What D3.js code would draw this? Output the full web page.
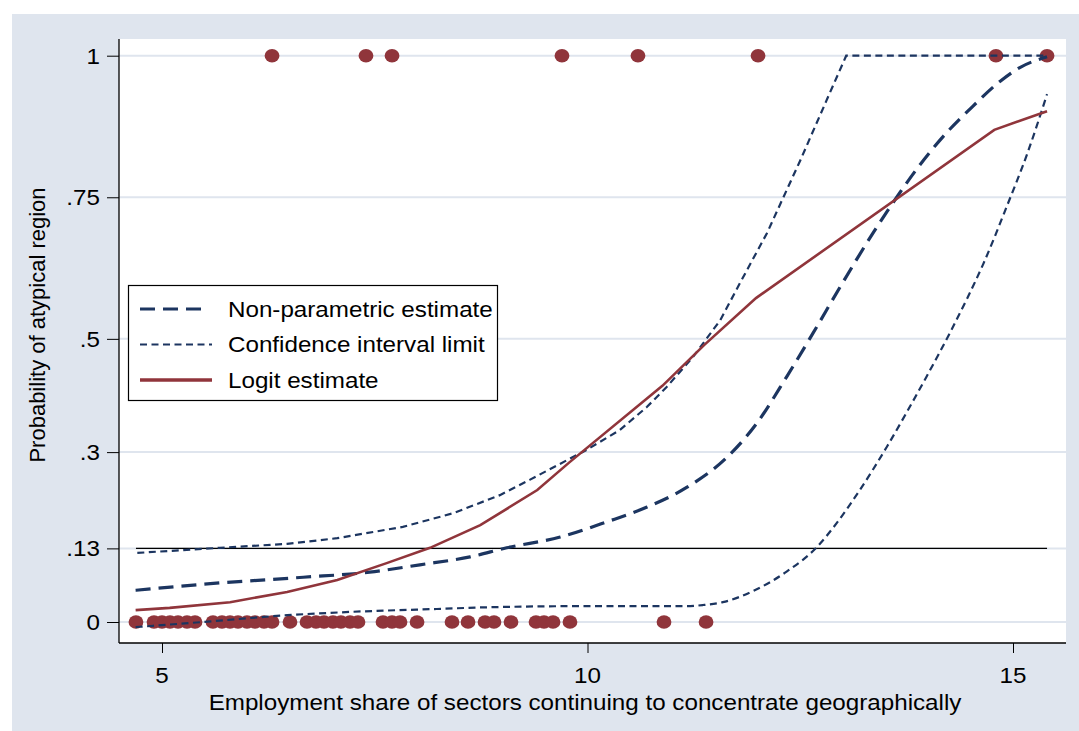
<!DOCTYPE html>
<html>
<head>
<meta charset="utf-8">
<script src="https://cdn.jsdelivr.net/npm/d3@7"></script>
<style>
  body { margin: 0; background: #fff; }
  text { font-family: "Liberation Sans", Arial, sans-serif; fill: #000; }
</style>
</head>
<body>
<script>
// observations (x) with outcome 0 and 1
const zeroX = [4.694, 4.906, 5.0, 5.094, 5.188, 5.294, 5.388, 5.599, 5.705, 5.799, 5.893, 5.999,
  6.093, 6.199, 6.293, 6.504, 6.704, 6.810, 6.904, 7.009, 7.103, 7.209, 7.303, 7.597, 7.703,
  7.797, 7.997, 8.408, 8.596, 8.796, 8.901, 9.101, 9.395, 9.489, 9.595, 9.794, 10.899, 11.393];
const oneX = [6.293, 7.397, 7.703, 9.700, 10.593, 12.004, 14.800, 15.400];

// fitted curves, [x, probability]
const nonParametric = [[4.69, 0.056], [5.68, 0.069], [6.66, 0.079], [7.44, 0.088], [8.03, 0.101],
  [8.62, 0.115], [9.05, 0.131], [9.68, 0.150], [10.23, 0.177], [10.70, 0.203], [11.17, 0.238],
  [11.64, 0.291], [11.99, 0.351], [12.34, 0.433], [12.65, 0.510], [12.97, 0.592], [13.36, 0.688],
  [13.67, 0.758], [13.91, 0.808], [14.22, 0.864], [14.53, 0.911], [14.85, 0.955], [15.08, 0.979],
  [15.40, 0.998]];
const ciUpper = [[4.71, 0.122], [5.68, 0.131], [6.47, 0.138], [7.06, 0.148], [7.83, 0.168],
  [8.42, 0.192], [8.97, 0.224], [9.32, 0.251], [9.99, 0.304], [10.38, 0.339], [10.70, 0.380],
  [10.93, 0.415], [11.24, 0.468], [11.56, 0.533], [11.79, 0.598], [12.11, 0.687], [12.50, 0.815],
  [12.80, 0.918], [13.04, 1.0], [15.40, 1.0]];
const ciLower = [[4.69, -0.009], [5.48, 0.0], [6.47, 0.012], [7.24, 0.018], [8.23, 0.023],
  [8.82, 0.026], [9.99, 0.028], [11.17, 0.028], [11.36, 0.030], [11.59, 0.035], [11.95, 0.055],
  [12.34, 0.089], [12.70, 0.133], [12.93, 0.175], [13.20, 0.233], [13.52, 0.310], [13.75, 0.370],
  [13.99, 0.435], [14.26, 0.511], [14.46, 0.571], [14.65, 0.632], [14.93, 0.735], [15.17, 0.828],
  [15.40, 0.932]];
const logit = [[4.69, 0.021], [5.09, 0.025], [5.80, 0.035], [6.47, 0.053], [7.06, 0.074],
  [7.64, 0.104], [8.15, 0.131], [8.74, 0.171], [9.41, 0.233], [9.78, 0.281], [10.88, 0.417],
  [11.37, 0.489], [11.98, 0.572], [14.78, 0.869], [15.40, 0.902]];

const refLine = 0.13;
const yTicks = [0, 0.13, 0.3, 0.5, 0.75, 1];
const yTickLabels = ["0", ".13", ".3", ".5", ".75", "1"];
const xTicks = [5, 10, 15];
const legendLabels = ["Non-parametric estimate", "Confidence interval limit", "Logit estimate"];

const W = 1079, H = 731;
const pLeft = 119, pRight = 1066, pTop = 39, pBottom = 643;
const navy = "#1c3560", maroon = "#90353b", panel = "#dfe5ee";
const fs = 22, sx = 1.1;   // picture is slightly stretched horizontally

const svg = d3.select("body").append("svg")
    .attr("width", W)
    .attr("height", H);

svg.append("rect").attr("x", 12).attr("y", 14).attr("width", W - 12).attr("height", H - 14)
    .attr("fill", panel);
svg.append("rect").attr("x", pLeft).attr("y", pTop).attr("width", pRight - pLeft).attr("height", pBottom - pTop)
    .attr("fill", "#fff");

const x = d3.scaleLinear().domain([5, 15]).range([162, 1013]);
const y = d3.scaleLinear().domain([0, 1]).range([622, 55.7]);

function label(sel, px, py, str, anchor) {
  return sel.append("text")
      .attr("transform", `translate(${px},${py}) scale(${sx},1)`)
      .attr("text-anchor", anchor)
      .attr("font-size", fs)
      .text(str);
}

// gridlines
svg.append("g").selectAll("line")
    .data(yTicks)
    .join("line")
    .attr("x1", pLeft).attr("x2", pRight)
    .attr("y1", d => y(d)).attr("y2", d => y(d))
    .attr("stroke", panel).attr("stroke-width", 2);

// axes
const yAxis = svg.append("g").attr("transform", `translate(${pLeft},0)`)
    .call(d3.axisLeft(y).tickValues(yTicks).tickSize(12).tickFormat(""));
yAxis.select(".domain").remove();
yAxis.selectAll(".tick line").attr("stroke", "#000");
yTicks.forEach((t, i) => label(svg, 100, y(t) + 7.8, yTickLabels[i], "end"));

const xAxis = svg.append("g").attr("transform", `translate(0,${pBottom})`)
    .call(d3.axisBottom(x).tickValues(xTicks).tickSize(10).tickFormat(""));
xAxis.select(".domain").remove();
xAxis.selectAll(".tick line").attr("stroke", "#000");
xTicks.forEach(t => label(svg, x(t), 683, d3.format("d")(t), "middle"));

svg.append("line").attr("x1", pLeft).attr("x2", pLeft).attr("y1", pTop).attr("y2", pBottom)
    .attr("stroke", "#000").attr("stroke-width", 1.3);
svg.append("line").attr("x1", pLeft).attr("x2", pRight).attr("y1", pBottom).attr("y2", pBottom)
    .attr("stroke", "#000").attr("stroke-width", 1.3);

label(svg, 585, 710, "Employment share of sectors continuing to concentrate geographically", "middle");
svg.append("text")
    .attr("transform", `translate(45,325) rotate(-90)`)
    .attr("text-anchor", "middle")
    .attr("font-size", fs)
    .text("Probability of atypical region");

// observations
const dots = svg.append("g").attr("fill", maroon);
dots.selectAll(".z").data(zeroX).join("ellipse").attr("class", "z")
    .attr("cx", d => x(d)).attr("cy", y(0)).attr("rx", 7.4).attr("ry", 6.8);
dots.selectAll(".o").data(oneX).join("ellipse").attr("class", "o")
    .attr("cx", d => x(d)).attr("cy", y(1)).attr("rx", 7.4).attr("ry", 6.8);

// reference line
const allX = zeroX.concat(oneX);
svg.append("line")
    .attr("x1", x(d3.min(allX))).attr("x2", x(d3.max(allX)))
    .attr("y1", y(refLine)).attr("y2", y(refLine))
    .attr("stroke", "#000").attr("stroke-width", 1.4);

const smooth = d3.line().x(d => x(d[0])).y(d => y(d[1])).curve(d3.curveMonotoneX);
const straight = d3.line().x(d => x(d[0])).y(d => y(d[1]));

const styles = [
  { stroke: navy, width: 3.2, dash: "15,8" },
  { stroke: navy, width: 2.2, dash: "7,4.5" },
  { stroke: maroon, width: 2.6, dash: null }
];

svg.append("path").attr("d", smooth(nonParametric))
    .attr("fill", "none").attr("stroke", styles[0].stroke).attr("stroke-width", styles[0].width)
    .attr("stroke-dasharray", styles[0].dash);
[straight(ciUpper), smooth(ciLower)].forEach(d =>
  svg.append("path").attr("d", d)
      .attr("fill", "none").attr("stroke", styles[1].stroke).attr("stroke-width", styles[1].width)
      .attr("stroke-dasharray", styles[1].dash));
svg.append("path").attr("d", straight(logit))
    .attr("fill", "none").attr("stroke", styles[2].stroke).attr("stroke-width", styles[2].width);

// legend
const lg = svg.append("g");
lg.append("rect").attr("x", 128.5).attr("y", 285.5).attr("width", 369).attr("height", 115)
    .attr("fill", "#fff").attr("stroke", "#000").attr("stroke-width", 1.2);
const sampleEnd = [203, 212, 212];
legendLabels.forEach((t, i) => {
  const ry = 309 + i * 35.5;
  lg.append("line").attr("x1", 140).attr("x2", sampleEnd[i]).attr("y1", ry).attr("y2", ry)
      .attr("stroke", styles[i].stroke).attr("stroke-width", i === 2 ? 3.4 : styles[i].width)
      .attr("stroke-dasharray", styles[i].dash);
  label(lg, 228, ry + 7.8, t, "start");
});
</script>
</body>
</html>
